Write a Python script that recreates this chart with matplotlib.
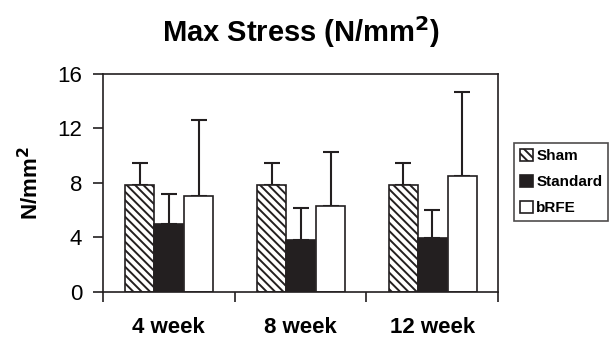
import numpy as np
import matplotlib.pyplot as plt

plt.rcParams['font.family'] = ['Liberation Sans', 'DejaVu Sans']
plt.rcParams['hatch.linewidth'] = 1.4

weeks = ['4 week', '8 week', '12 week']
groups = ['Sham', 'Standard', 'bRFE']
means = {
    'Sham': [7.87, 7.87, 7.87],
    'Standard': [5.02, 3.82, 3.93],
    'bRFE': [7.05, 6.31, 8.48],
}
errs = {
    'Sham': [1.60, 1.60, 1.60],
    'Standard': [2.17, 2.35, 2.06],
    'bRFE': [5.57, 3.94, 6.17],
}
face = {'Sham': 'white', 'Standard': '#231f20', 'bRFE': 'white'}
hatch = {'Sham': '\\\\\\\\', 'Standard': None, 'bRFE': None}

fig = plt.figure(figsize=(6.09, 3.41), dpi=100)
ax = fig.add_axes([0.169, 0.144, 0.649, 0.639])

x = np.arange(len(weeks))
w = 0.22
offs = [-w, 0, w + 0.008]
for g, o in zip(groups, offs):
    ax.bar(x + o, means[g], w, color=face[g], edgecolor='#231f20',
           hatch=hatch[g], linewidth=1.2, label=g, zorder=2)
    ax.errorbar(x + o, means[g], yerr=[np.zeros(3), errs[g]], fmt='none',
                ecolor='#231f20', elinewidth=1.5, capsize=5.5, capthick=1.5,
                zorder=1)

ax.set_xlim(-0.5, 2.5)
ax.set_ylim(0, 16)
ax.set_yticks([0, 4, 8, 12, 16])
ax.set_xticks([-0.5, 0.5, 1.5, 2.5])
ax.set_xticklabels([])
ax.set_xticks(x, minor=True)
ax.set_xticklabels(weeks, minor=True, fontsize=16, fontweight='bold')
ax.tick_params(axis='x', which='minor', length=0, pad=18)
ax.tick_params(axis='x', which='major', length=7, width=1.2, color='#231f20')
ax.tick_params(axis='y', length=7, width=1.2, labelsize=16, pad=8,
               color='#231f20')
for s in ax.spines.values():
    s.set_linewidth(1.2)
    s.set_color('#231f20')

ax.set_ylabel('N/mm$^\\mathbf{2}$', fontsize=16, fontweight='bold', labelpad=10)
fig.text(0.495, 0.905, 'Max Stress (N/mm$^\\mathbf{2}$)', ha='center', va='center',
         fontsize=21, fontweight='bold')

leg = fig.legend(*ax.get_legend_handles_labels(), loc='upper left',
                 bbox_to_anchor=(0.844, 0.581),
                 prop={'weight': 'bold', 'size': 11}, frameon=True, fancybox=False,
                 edgecolor='#231f20', handlelength=0.85, handleheight=0.85,
                 handletextpad=0.2, borderpad=0.4, labelspacing=0.75,
                 borderaxespad=0)
leg.get_frame().set_linewidth(1.2)

fig.savefig('out.png', dpi=100)
